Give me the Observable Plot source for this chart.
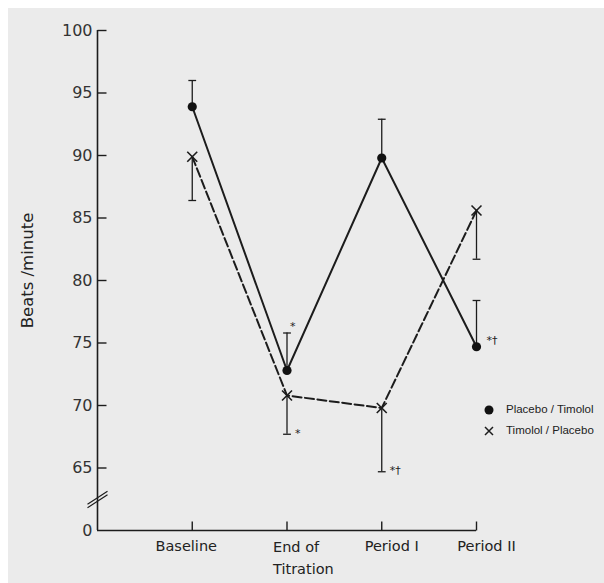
<!DOCTYPE html>
<html><head><meta charset="utf-8">
<script src="https://cdn.jsdelivr.net/npm/d3@7"></script>
<script src="https://cdn.jsdelivr.net/npm/@observablehq/plot@0.6"></script>
<style>
body{margin:0;background:#fff;}
#wrap{position:relative;width:604px;height:583px;overflow:hidden;}
#bg{position:absolute;left:8px;top:8px;right:0;bottom:0;background:#ebebeb;}
#chart{position:absolute;left:0;top:0;}
#legend{position:absolute;left:483px;top:399px;font:11.5px "Liberation Sans",sans-serif;color:#222;line-height:21px;}
#legend svg{vertical-align:middle;margin-right:11px;}
</style></head><body>
<div id="wrap"><div id="bg"></div><div id="chart"></div><div id="legend"></div></div>
<script>
const stages = ["Baseline", "End of\nTitration", "Period I", "Period II"];
const stageIndex = [1, 2, 3, 4];
const series = ["Placebo / Timolol", "Timolol / Placebo"];
const placeboMean = [93.9, 72.8, 89.8, 74.7];
const placeboUpper = [96.0, 75.8, 92.9, 78.4];
const timololMean = [89.9, 70.8, 69.8, 85.6];
const timololLower = [86.4, 67.7, 64.7, 81.7];
const placeboNote = ["", "*", "", "*†"];
const timololNote = ["", "*", "*†", ""];
const yTicks = [60, 65, 70, 75, 80, 85, 90, 95, 100];
const yTickLabels = ["0", "65", "70", "75", "80", "85", "90", "95", "100"];

const placebo = stageIndex.map((x, i) => ({x, mean: placeboMean[i], bar: placeboUpper[i], note: placeboNote[i]}));
const timolol = stageIndex.map((x, i) => ({x, mean: timololMean[i], bar: timololLower[i], note: timololNote[i]}));
const all = placebo.concat(timolol);
const axisBreak = [(yTicks[0] + yTicks[1]) / 2];

const capSymbol = {draw(ctx, size) { const w = Math.sqrt(size); ctx.moveTo(-w, 0); ctx.lineTo(w, 0); }};
const yTickSymbol = {draw(ctx) { ctx.moveTo(0, 0); ctx.lineTo(9, 0); }};
const xTickSymbol = {draw(ctx) { ctx.moveTo(0, 0); ctx.lineTo(0, -9); }};
const breakSymbol = {draw(ctx) {
  ctx.moveTo(-10, 5); ctx.lineTo(10, -8);
  ctx.moveTo(-10, 8.5); ctx.lineTo(10, -4.5);
}};
const ink = "#1c1c1c";
const font = "DejaVu Sans, sans-serif";

const chart = Plot.plot({
  width: 604, height: 583,
  marginLeft: 97, marginRight: 128, marginTop: 30, marginBottom: 53,
  x: {domain: [0, 4], axis: null},
  y: {domain: [60, 100], axis: null},
  style: {fontFamily: font, color: ink, background: "transparent", overflow: "visible"},
  marks: [
    Plot.ruleX([0], {stroke: ink, strokeWidth: 1.6}),
    Plot.ruleY([60], {stroke: ink, strokeWidth: 1.6}),
    // y ticks (inward) and labels
    Plot.dot(yTicks.slice(1), {x: () => 0, y: d => d, symbol: yTickSymbol, stroke: ink, strokeWidth: 1.4, fill: "none"}),
    Plot.text(yTicks, {x: () => 0, y: d => d, text: d => yTickLabels[yTicks.indexOf(d)], textAnchor: "end", dx: -5, fontSize: 16, fill: "#333"}),
    // x ticks (inward)
    Plot.dot(stageIndex, {x: d => d, y: () => 60, symbol: xTickSymbol, stroke: ink, strokeWidth: 1.4, fill: "none"}),
    Plot.dot(axisBreak, {x: () => 0, y: d => d, symbol: breakSymbol, stroke: ink, strokeWidth: 1.2, fill: "none"}),
    // x labels
    Plot.text(stageIndex.filter(i => i === 1), {x: d => d, frameAnchor: "bottom", text: d => stages[d - 1], lineAnchor: "top", dy: 10, dx: -6, fontSize: 14.5, fill: "#222"}),
    Plot.text(stageIndex.filter(i => i === 2), {x: d => d, frameAnchor: "bottom", text: d => stages[d - 1], lineAnchor: "top", textAnchor: "start", dy: 6, dx: -14, lineHeight: 1.5, fontSize: 14.5, fill: "#222"}),
    Plot.text(stageIndex.filter(i => i > 2), {x: d => d, frameAnchor: "bottom", text: d => stages[d - 1], lineAnchor: "top", dy: 10, dx: 10, fontSize: 14.5, fill: "#222"}),
    // y label
    Plot.text(["Beats /minute"], {frameAnchor: "left", textAnchor: "middle", rotate: -90, dx: -70, dy: -10, fontSize: 16.5, fill: "#222"}),
    // lines
    Plot.line(placebo, {x: "x", y: "mean", stroke: ink, strokeWidth: 2}),
    Plot.line(timolol, {x: "x", y: "mean", stroke: ink, strokeWidth: 2, strokeDasharray: "9,3.5"}),
    // error bars
    Plot.ruleX(all, {x: "x", y1: "mean", y2: "bar", stroke: ink, strokeWidth: 1.3}),
    Plot.dot(all, {x: "x", y: "bar", symbol: capSymbol, r: 2.2, stroke: ink, strokeWidth: 1.3, fill: "none"}),
    // points
    Plot.dot(placebo, {x: "x", y: "mean", r: 4.6, fill: "#111", stroke: "none"}),
    Plot.dot(timolol, {x: "x", y: "mean", symbol: "times", r: 4.6, stroke: ink, strokeWidth: 1.6}),
    // significance notes
    Plot.text(placebo.filter(d => d.note && d.x === 2), {x: "x", y: "bar", text: "note", textAnchor: "start", dx: 3, dy: -7, fontSize: 11, fill: "#222"}),
    Plot.text(placebo.filter(d => d.note && d.x !== 2), {x: "x", y: "mean", text: "note", textAnchor: "start", dx: 10, dy: -6, fontSize: 11, fill: "#222"}),
    Plot.text(timolol.filter(d => d.note), {x: "x", y: "bar", text: "note", textAnchor: "start", dx: 8, dy: -1, fontSize: 11, fill: "#222"})
  ]
});
document.getElementById("chart").appendChild(chart);

const legend = document.getElementById("legend");
series.forEach((name, i) => {
  const row = document.createElement("div");
  const glyph = i === 0
    ? `<svg width="12" height="12"><circle cx="6" cy="6" r="4.5" fill="#111"/></svg>`
    : `<svg width="12" height="12"><path d="M2,2L10,10M10,2L2,10" stroke="${ink}" stroke-width="1.5"/></svg>`;
  row.innerHTML = glyph + name;
  legend.appendChild(row);
});
</script>
</body></html>
